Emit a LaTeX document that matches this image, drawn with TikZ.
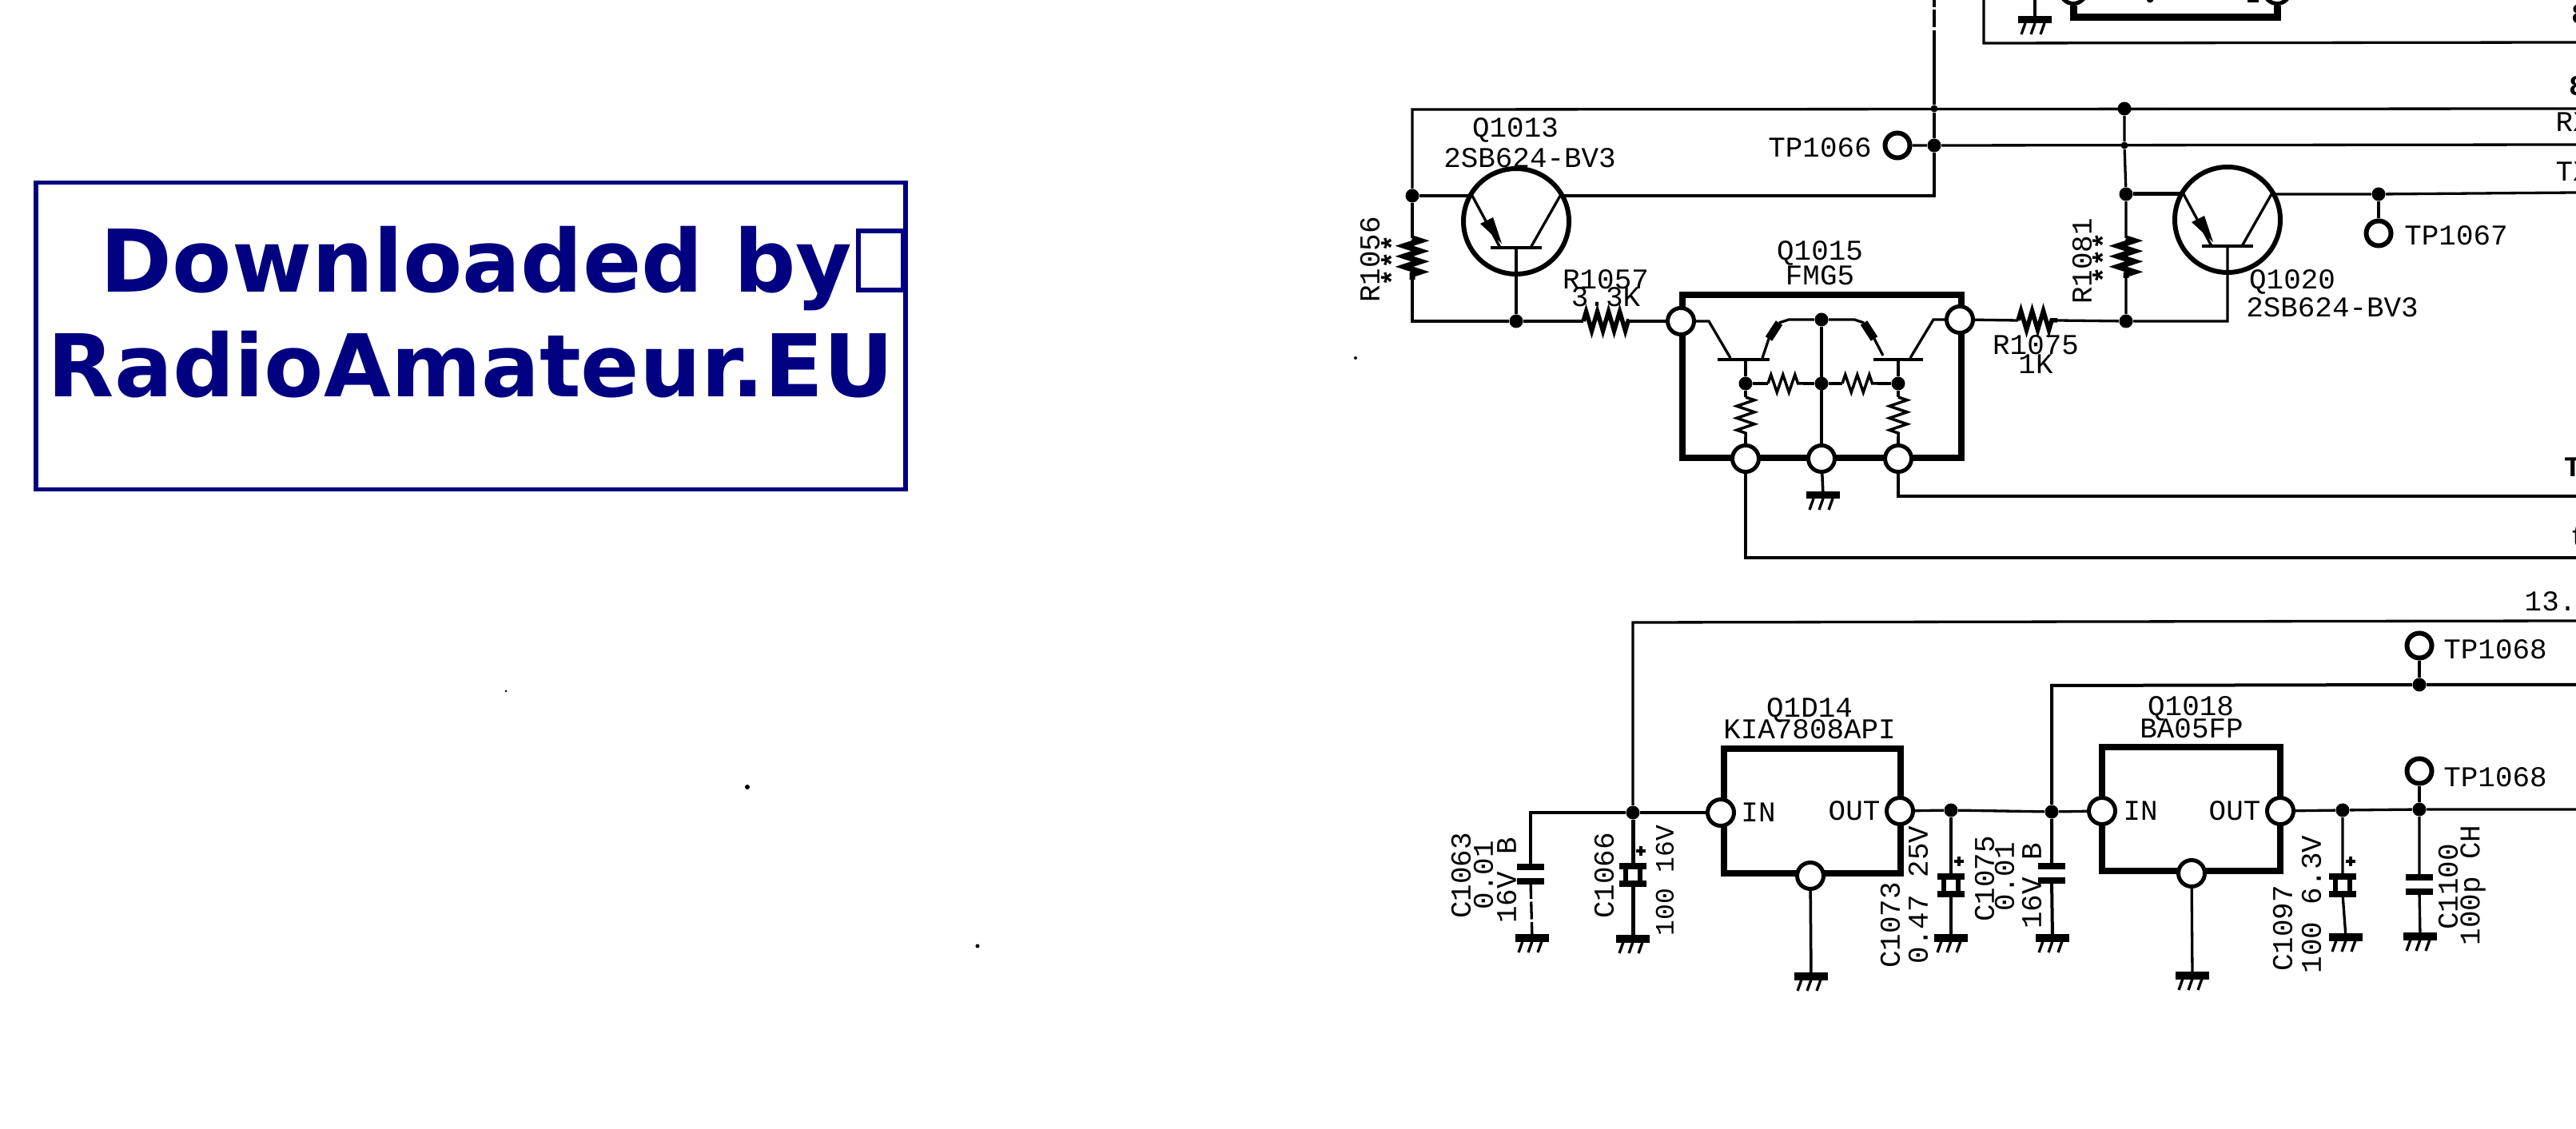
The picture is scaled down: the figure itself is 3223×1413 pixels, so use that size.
\documentclass[tikz,border=0pt]{standalone}
\usepackage{fontspec}
\usetikzlibrary{decorations.pathmorphing}
\newfontfamily\schemfont{Liberation Mono}
\newfontfamily\markfont{DejaVu Sans}
\definecolor{marknavy}{HTML}{000080}
\tikzset{
  wire/.style={line width=.033cm},
  brokenwire/.style={line width=.033cm,dash pattern=on .22cm off .035cm},
  box/.style={line width=.075cm,line cap=rect},
  res/.style={line width=.035cm,decorate,decoration={zigzag,amplitude=.11cm,segment length=.15cm}},
  bigres/.style={line width=.07cm,decorate,decoration={zigzag,amplitude=.1cm,segment length=.13cm}},
  plate/.style={line width=.08cm},
  dot/.style={circle,fill=black,inner sep=0pt,minimum size=.17cm},
  smalldot/.style={circle,fill=black,inner sep=0pt,minimum size=.09cm},
  pad/.style={circle,draw,fill=white,line width=.05cm,inner sep=0pt,minimum size=.33cm},
  tp/.style={circle,draw,fill=white,line width=.06cm,inner sep=0pt,minimum size=.31cm},
  lbl/.style={inner sep=0pt,font=\schemfont\fontsize{10.2}{12}\selectfont},
  lblup/.style={lbl,rotate=90},
  sublbl/.style={lblup,font=\schemfont\fontsize{9.4}{12}\selectfont},
  boldlbl/.style={lbl,font=\schemfont\bfseries\fontsize{10.2}{12}\selectfont},
  stamptext/.style={inner sep=0pt,anchor=base west,text=marknavy,font=\markfont\bfseries\fontsize{30.8}{36}\selectfont},
  gnd/.pic={
    \coordinate (-in) at (0,0);
    \draw[line width=.09cm] (-21,0) -- (21,0);
    \foreach \i in {-12,0,12} \draw[wire] (\i,4) -- (\i-5,18);
  },
  capa/.pic={
    \coordinate (-top) at (0,-9);
    \coordinate (-bot) at (0,9);
    \draw[plate] (-17,-9) -- (17,-9);
    \draw[plate] (-17,9) -- (17,9);
  },
  ecap/.pic={
    \coordinate (-top) at (0,-11);
    \coordinate (-bot) at (0,11);
    \draw[plate] (-17,-11) -- (17,-11);
    \draw[plate] (-17,11) -- (17,11);
    \draw[line width=.06cm] (-9,-11) -- (-9,11) (9,-11) -- (9,11);
    \draw[wire] (4,-30) -- (16,-30) (10,-36) -- (10,-24);
  },
  pnp/.pic={
    \coordinate (-e) at (-55,-32);
    \coordinate (-c) at (55,-32);
    \coordinate (-b) at (0,33);
    \draw[line width=.06cm] (0,0) circle (66);
    \draw[line width=.04cm] (-32,33) -- (32,33);
    \draw[wire] (-55,-32) -- (-20,33) (55,-32) -- (18,33);
    \fill (-45,3) -- (-29,-5) -- (-18,28) -- cycle;
  },
}
\begin{document}
\begin{tikzpicture}[x=.01cm,y=-.01cm]
  \useasboundingbox (0,0) rectangle (3223,1413);
  \clip (0,0) rectangle (3223,1413);
  % download stamp
  \draw[marknavy,line width=.055cm] (45,228.5) rectangle (1133,612.5);
  \node[stamptext] (dl) at (125,366) {Downloaded by};
  \node[stamptext] (ra) at (59,497) {RadioAmateur.EU};
  \node[draw=marknavy,line width=.065cm,inner sep=0pt,minimum width=.56cm,minimum height=.74cm] (tofu) at (1102,326) {};
  % specks of the scan
  \foreach \sx/\sy/\sr in {633/865/1.5,935/985/3,1223/1184/2.5,1696/448/2}
    \fill (\sx,\sy) circle (\sr);

  % upper rails
  \coordinate (railtl) at (1767,137);
  \coordinate (railtr) at (3223,136);
  \coordinate (railbr) at (3223,181);
  \coordinate (railcr) at (3223,241);
  \coordinate (corner) at (2420,245);
  \coordinate (feed) at (2420,60);
  \coordinate (feedtop) at (2420,0);
  \node[dot] (d1) at (1767,245) {};
  \node[dot] (d2) at (1897,402) {};
  \node[dot] (d3) at (2420,182) {};
  \node[smalldot] (d3b) at (2420,136) {};
  \node[dot] (d4) at (2658,136) {};
  \node[smalldot] (d4b) at (2658,182) {};
  \node[dot] (d5) at (2660,243) {};
  \node[dot] (d6) at (2660,402) {};
  \node[dot] (d7) at (2976,243) {};
  \node[tp] (tp1066) at (2374,182) {};
  \node[tp] (tp1067) at (2976,292) {};
  \pic (q1013) at (1897,277) {pnp};
  \pic (q1020) at (2787,275) {pnp};
  \coordinate (r1056a) at (1767,298);
  \coordinate (r1056b) at (1767,350);
  \coordinate (r1057a) at (1981,402);
  \coordinate (r1057b) at (2038,402);
  \coordinate (r1075a) at (2525,401);
  \coordinate (r1075b) at (2574,401);
  \coordinate (r1081a) at (2660,298);
  \coordinate (r1081b) at (2660,348);

  % Q1015 package
  \draw[box] (2105,369) rectangle (2454,573);
  \node[pad] (p1) at (2103,402) {};
  \node[pad] (p2) at (2452,400) {};
  \node[pad] (p3) at (2184,574) {};
  \node[pad] (p4) at (2279,574) {};
  \node[pad] (p5) at (2375,574) {};
  \node[dot] (d8) at (2279,400) {};
  \node[dot] (d9) at (2279,480) {};
  \node[dot] (d10) at (2184,480) {};
  \node[dot] (d11) at (2375,480) {};
  \coordinate (lb) at (2184,450);
  \coordinate (rb) at (2375,450);
  \coordinate (le1) at (2138,402);
  \coordinate (le2) at (2165,448);
  \coordinate (lc1) at (2205,448);
  \coordinate (lc2) at (2213,424);
  \coordinate (lc3) at (2226,404);
  \coordinate (lc4) at (2238,400);
  \coordinate (re1) at (2320,400);
  \coordinate (re2) at (2332,404);
  \coordinate (re3) at (2345,424);
  \coordinate (re4) at (2356,445);
  \coordinate (rc1) at (2390,448);
  \coordinate (rc2) at (2419,400);
  \draw[line width=.04cm] (2149,450) -- (2214,450) (2344,450) -- (2406,450);
  \draw[wire] (p1) -- (le1) -- (le2);
  \draw[wire] (lc1) -- (lc2);
  \draw[line width=.1cm] (lc2) -- (lc3);
  \draw[wire] (lc3) -- (lc4) -- (d8) -- (re1) -- (re2);
  \draw[line width=.1cm] (re2) -- (re3);
  \draw[wire] (re3) -- (re4);
  \draw[wire] (rc1) -- (rc2) -- (p2);
  \draw[wire] (d8) -- (p4);
  \draw[line width=.04cm] (lb) -- (d10);
  \draw[wire] (rb) -- (d11);
  \coordinate (r1a) at (2212,480);
  \coordinate (r1b) at (2256,480);
  \coordinate (r2a) at (2305,480);
  \coordinate (r2b) at (2349,480);
  \coordinate (r3a) at (2184,497);
  \coordinate (r3b) at (2184,547);
  \coordinate (r4a) at (2375,497);
  \coordinate (r4b) at (2375,547);
  \draw[wire] (d10) -- (r1a) (r1b) -- (d9) -- (r2a) (r2b) -- (d11);
  \draw[wire] (d10) -- (r3a) (r3b) -- (p3) (d11) -- (r4a) (r4b) -- (p5);
  \draw[res] (r1a) -- (r1b);
  \draw[res] (r2a) -- (r2b);
  \draw[res] (r3a) -- (r3b);
  \draw[res] (r4a) -- (r4b);
  \pic (g1) at (2281,620) {gnd};
  \draw[line width=.035cm] (p4) -- (g1-in);
  \coordinate (tpl) at (3223,621);
  \coordinate (rxl) at (3223,698);
  \draw[wire] (p5) |- (tpl);
  \draw[wire] (p3) |- (rxl);

  \draw[wire] (d1) -- (railtl) -- (railtr);
  \draw[wire] (d1) -- (r1056a) (r1056b) |- (d2);
  \draw[bigres] (r1056a) -- (r1056b);
  \draw[wire] (d1) -- (q1013-e);
  \draw[wire] (q1013-b) -- (d2) -- (r1057a) (r1057b) -- (p1);
  \draw[line width=.055cm,decorate,decoration={zigzag,amplitude=.12cm,segment length=.14cm}] (r1057a) -- (r1057b);
  \draw[wire] (q1013-c) -- (corner) -- (d3) -- (d3b) -- (feed);
  \draw[brokenwire] (feed) -- (feedtop);
  \draw[wire] (tp1066) -- (d3) -- (railbr);
  \draw[wire] (d4) -- (d4b) -- (d5) -- (r1081a) (r1081b) -- (d6);
  \draw[bigres] (r1081a) -- (r1081b);
  \draw[line width=.05cm] (d5) -- (q1020-e);
  \draw[wire] (q1020-c) -- (d7) -- (railcr);
  \draw[wire] (d7) -- (tp1067);
  \draw[wire] (p2) -- (r1075a) (r1075b) -- (d6) -| (q1020-b);
  \draw[line width=.055cm,decorate,decoration={zigzag,amplitude=.12cm,segment length=.14cm}] (r1075a) -- (r1075b);

  % top fragment
  \coordinate (frag1) at (2482,0);
  \coordinate (frag2) at (2482,54);
  \coordinate (frag3) at (3223,53);
  \coordinate (frag4) at (2546,0);
  \coordinate (frag5) at (2849,22);
  \coordinate (frag6) at (2812,1);
  \coordinate (frag7) at (2826,1);
  \draw[wire] (frag1) -- (frag2) -- (frag3);
  \pic (g2) at (2546,25) {gnd};
  \draw[wire] (frag4) -- (g2-in);
  \node[pad] (pt1) at (2594,-12) {};
  \node[pad] (pt2) at (2849,-12) {};
  \node[smalldot] (dt1) at (2690,-1) {};
  \draw[line width=.09cm] (pt1) |- (frag5) -- (pt2);
  \draw[wire] (frag6) -- (frag7);

  % supply rails
  \coordinate (sup1) at (2043,779);
  \coordinate (sup2) at (3223,777);
  \coordinate (sup3) at (2567,858);
  \coordinate (sup4) at (3223,857);
  \coordinate (sup5) at (3223,1013);
  \coordinate (in1) at (1915,1017);
  \node[dot] (j1) at (2043,1017) {};
  \node[dot] (j2) at (2441,1014) {};
  \node[dot] (j3) at (2567,1016) {};
  \node[dot] (j4) at (2931,1014) {};
  \node[dot] (j5) at (3027,1013) {};
  \node[dot] (j6) at (3027,857) {};
  \node[tp] (tp1068a) at (3027,808) {};
  \node[tp] (tp1068b) at (3027,965) {};
  \draw[box] (2157,937) rectangle (2378,1093);
  \draw[box] (2630,935) rectangle (2853,1090);
  \node[pad] (a1) at (2153,1017) {};
  \node[pad] (a2) at (2377,1015) {};
  \node[pad] (a3) at (2265,1096) {};
  \node[pad] (b1) at (2630,1015) {};
  \node[pad] (b2) at (2853,1015) {};
  \node[pad] (b3) at (2742,1093) {};
  \pic (c1063) at (1915,1094) {capa};
  \pic (c1066) at (2043,1095) {ecap};
  \pic (c1073) at (2441,1108) {ecap};
  \pic (c1075) at (2567,1093) {capa};
  \pic (c1097) at (2931,1108) {ecap};
  \pic (c1100) at (3027,1107) {capa};
  \pic (g3) at (1917,1174) {gnd};
  \pic (g4) at (2043,1175) {gnd};
  \pic (g5) at (2441,1174) {gnd};
  \pic (g6) at (2568,1174) {gnd};
  \pic (g7) at (2935,1173) {gnd};
  \pic (g8) at (3028,1172) {gnd};
  \pic (g9) at (2266,1222) {gnd};
  \pic (g10) at (2743,1221) {gnd};
  \draw[wire] (j1) -- (sup1) -- (sup2);
  \draw[wire] (c1063-top) -- (in1) -- (j1) -- (a1);
  \draw[line width=.05cm] (j1) -- (c1066-top) (c1066-bot) -- (g4-in);
  \draw[brokenwire] (c1063-bot) -- (g3-in);
  \draw[wire] (a2) -- (j2) -- (j3) -- (b1);
  \draw[wire] (j2) -- (c1073-top) (c1073-bot) -- (g5-in);
  \draw[line width=.04cm] (j3) -- (sup3) -- (j6) -- (sup4);
  \draw[line width=.04cm] (j3) -- (c1075-top) (c1075-bot) -- (g6-in);
  \draw[wire] (j6) -- (tp1068a);
  \draw[wire] (b2) -- (j4) -- (j5) -- (sup5);
  \draw[wire] (j5) -- (tp1068b);
  \draw[wire] (j4) -- (c1097-top) (c1097-bot) -- (g7-in);
  \draw[wire] (j5) -- (c1100-top) (c1100-bot) -- (g8-in);
  \draw[line width=.035cm] (a3) -- (g9-in);
  \draw[wire] (b3) -- (g10-in);

  % labels
  \node[lbl] (tq1013) at (1896,163) {Q1013};
  \node[lbl] (tq1013b) at (1914,198) {2SB624-BV3};
  \node[lbl] (ttp1066) at (2277,185) {TP1066};
  \node[lblup] (tr1056) at (1714,325) {R1056};
  \node[boldlbl,rotate=90] (tr1056b) at (1741,326) {***};
  \node[lbl] (tr1057) at (2009,350) {R1057};
  \node[lbl] (tr1057b) at (2009,372) {3.3K};
  \node[lbl] (tq1015) at (2277,317) {Q1015};
  \node[lbl] (tq1015b) at (2277,345) {FMG5};
  \node[lbl] (tr1075) at (2547,432) {R1075};
  \node[lbl] (tr1075b) at (2547,456) {1K};
  \node[lblup] (tr1081) at (2605,327) {R1081};
  \node[boldlbl,rotate=90] (tr1081b) at (2631,323) {***};
  \node[lbl] (tq1020) at (2868,353) {Q1020};
  \node[lbl] (tq1020b) at (2918,385) {2SB624-BV3};
  \node[lbl] (ttp1067) at (3073,295) {TP1067};
  \node[lbl,anchor=west] (trx) at (3197,153) {RX};
  \node[lbl,anchor=west] (ttx) at (3197,215) {TX};
  \node[boldlbl,anchor=west] (te1) at (3217,18) {8};
  \node[boldlbl,anchor=west] (te2) at (3214,108) {8};
  \node[boldlbl,anchor=west] (te3) at (3208,585) {T};
  \node[lbl,anchor=west] (te4) at (3215,672) {t};
  \node[lbl,anchor=west] (t138) at (3158,753) {13.8};
  \node[lbl,anchor=west] (te5) at (3220,823) {B};
  \node[lbl,anchor=west] (te6) at (3220,980) {B};
  \node[lbl] (tq1014) at (2264,889) {Q1D14};
  \node[lbl] (tq1014b) at (2264,913) {KIA7808API};
  \node[lbl] (tq1018) at (2741,887) {Q1018};
  \node[lbl] (tq1018b) at (2742,912) {BA05FP};
  \node[lbl] (tin1) at (2200,1017) {IN};
  \node[lbl] (tout1) at (2320,1015) {OUT};
  \node[lbl] (tin2) at (2678,1015) {IN};
  \node[lbl] (tout2) at (2796,1015) {OUT};
  \node[lbl] (ttp1068a) at (3122,813) {TP1068};
  \node[lbl] (ttp1068b) at (3122,973) {TP1068};
  \node[lblup] (tc1063) at (1828,1096) {C1063};
  \node[lblup] (tc1063b) at (1856,1095) {0.01};
  \node[lblup] (tc1063c) at (1885,1102) {16V B};
  \node[lblup] (tc1066) at (2007,1096) {C1066};
  \node[sublbl] (tc1066b) at (2083,1102) {100 16V};
  \node[lblup] (tc1073) at (2365,1158) {C1073};
  \node[lblup] (tc1073b) at (2400,1120) {0.47 25V};
  \node[lblup] (tc1075) at (2483,1100) {C1075};
  \node[lblup] (tc1075b) at (2508,1097) {0.01};
  \node[lblup] (tc1075c) at (2542,1109) {16V B};
  \node[lblup] (tc1097) at (2856,1162) {C1097};
  \node[lblup] (tc1097b) at (2892,1132) {100 6.3V};
  \node[lblup] (tc1100) at (3063,1110) {C1100};
  \node[lblup] (tc1100b) at (3094,1108) {100p CH};
\end{tikzpicture}
\end{document}
